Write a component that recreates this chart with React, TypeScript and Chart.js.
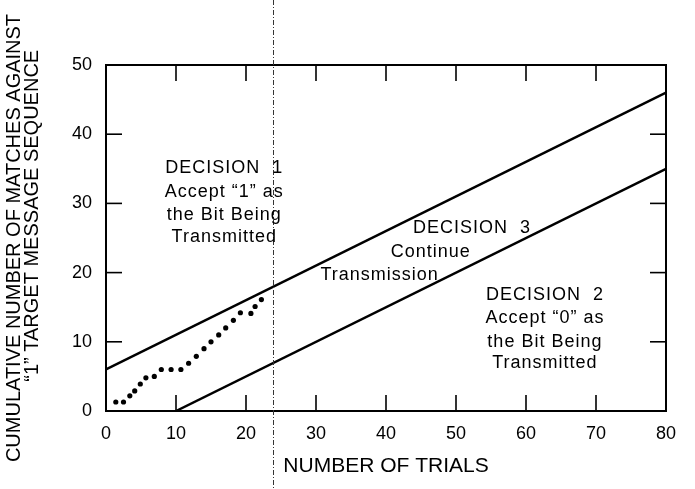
import React, { useEffect, useRef } from 'react';
import { Chart, registerables } from 'chart.js';

Chart.register(...registerables);

// Observed sequential test path (trial number, cumulative matches)
const trialX = [1.4, 2.5, 3.4, 4.1, 4.9, 5.7, 6.9, 7.9, 9.3, 10.7, 11.8, 12.9, 14.0, 15.0, 16.1, 17.1, 18.2, 19.2, 20.7, 21.3, 22.2];
const matchY = [1.3, 1.3, 2.2, 2.9, 3.9, 4.8, 5.0, 6.0, 6.0, 6.0, 6.9, 7.9, 9.0, 10.0, 11.0, 12.0, 13.1, 14.2, 14.1, 15.1, 16.1];

// Decision boundaries
const upperX = [0, 80];
const upperY = [6, 46];
const lowerX = [10, 80];
const lowerY = [0, 35];

// Trial at which decision was reached
const decisionTrial = 23.9;

const xTitle = 'NUMBER OF TRIALS';
const yTitle = ['CUMULATIVE NUMBER OF MATCHES AGAINST', '        \u201C1\u201D TARGET MESSAGE SEQUENCE'];

const regionLabels = [
  { text: 'DECISION  1', x: 16.9, y: 35.1 },
  { text: 'Accept \u201C1\u201D as', x: 16.9, y: 31.6 },
  { text: 'the Bit Being', x: 16.9, y: 28.3 },
  { text: 'Transmitted', x: 16.9, y: 25.1 },
  { text: 'DECISION  3', x: 52.3, y: 26.4 },
  { text: 'Continue', x: 46.4, y: 23.0 },
  { text: 'Transmission', x: 39.1, y: 19.7 },
  { text: 'DECISION  2', x: 62.7, y: 16.8 },
  { text: 'Accept \u201C0\u201D as', x: 62.7, y: 13.4 },
  { text: 'the Bit Being', x: 62.7, y: 10.0 },
  { text: 'Transmitted', x: 62.7, y: 6.9 },
];

const FONT = '"Liberation Sans", Arial, sans-serif';

const framePlugin = {
  id: 'frame',
  afterDraw(chart: any) {
    const { ctx, chartArea: a, scales } = chart;
    const x = scales.x;
    const y = scales.y;
    const seg = (x1: number, y1: number, x2: number, y2: number) => {
      ctx.beginPath();
      ctx.moveTo(x1, y1);
      ctx.lineTo(x2, y2);
      ctx.stroke();
    };
    ctx.save();
    ctx.strokeStyle = '#000';
    ctx.lineWidth = 2;
    ctx.strokeRect(a.left, a.top, a.right - a.left, a.bottom - a.top);
    ctx.lineWidth = 1.6;
    const tl = 16;
    x.ticks.forEach((t: any) => {
      if (t.value <= x.min || t.value >= x.max) return;
      const px = x.getPixelForValue(t.value);
      seg(px, a.bottom, px, a.bottom - tl);
      seg(px, a.top, px, a.top + tl);
    });
    y.ticks.forEach((t: any) => {
      if (t.value <= y.min || t.value >= y.max) return;
      const py = y.getPixelForValue(t.value);
      seg(a.left, py, a.left + tl, py);
      seg(a.right, py, a.right - tl, py);
    });
    // vertical decision line
    ctx.lineWidth = 1;
    ctx.strokeStyle = '#333';
    ctx.setLineDash([5, 2, 1, 2]);
    const dx = Math.round(x.getPixelForValue(decisionTrial)) + 0.5;
    seg(dx, 0, dx, chart.height);
    ctx.setLineDash([]);
    // region labels
    ctx.fillStyle = '#000';
    ctx.font = `18px ${FONT}`;
    (ctx as any).letterSpacing = '1px';
    ctx.textAlign = 'center';
    ctx.textBaseline = 'middle';
    regionLabels.forEach((l) => {
      ctx.fillText(l.text, x.getPixelForValue(l.x), y.getPixelForValue(l.y));
    });
    ctx.restore();
  },
};

export default function App() {
  const ref = useRef<HTMLCanvasElement | null>(null);
  useEffect(() => {
    if (!ref.current) return;
    const chart = new Chart(ref.current, {
      type: 'scatter',
      data: {
        datasets: [
          {
            label: 'path',
            data: trialX.map((v, i) => ({ x: v, y: matchY[i] })),
            showLine: false,
            pointRadius: 2.6,
            pointBackgroundColor: '#000',
            pointBorderWidth: 0,
          },
          {
            label: 'upper',
            data: upperX.map((v, i) => ({ x: v, y: upperY[i] })),
            showLine: true,
            borderColor: '#000',
            borderWidth: 2.5,
            pointRadius: 0,
          },
          {
            label: 'lower',
            data: lowerX.map((v, i) => ({ x: v, y: lowerY[i] })),
            showLine: true,
            borderColor: '#000',
            borderWidth: 2.5,
            pointRadius: 0,
          },
        ],
      },
      options: {
        responsive: false,
        animation: false,
        devicePixelRatio: 1,
        layout: { padding: { top: 65, right: 29, left: 0, bottom: 0 } },
        plugins: { legend: { display: false }, tooltip: { enabled: false } },
        scales: {
          x: {
            type: 'linear',
            min: 0,
            max: 80,
            grid: { display: false, drawTicks: false },
            border: { display: false },
            ticks: { stepSize: 10, color: '#000', padding: 12, font: { family: FONT, size: 18 } },
            title: {
              display: true,
              text: xTitle,
              color: '#000',
              font: { family: FONT, size: 21 },
              padding: { top: 0, bottom: 10 },
            },
            afterFit: (s: any) => {
              s.height = 78;
            },
          },
          y: {
            type: 'linear',
            min: 0,
            max: 50,
            grid: { display: false, drawTicks: false },
            border: { display: false },
            ticks: { stepSize: 10, color: '#000', padding: 14, font: { family: FONT, size: 18 } },
            title: {
              display: true,
              text: yTitle,
              color: '#000',
              font: { family: FONT, size: 20, lineHeight: 0.9 },
              padding: { top: 5, bottom: 0 },
            },
            afterFit: (s: any) => {
              s.width = 106;
            },
          },
        },
      },
      plugins: [framePlugin],
    });
    return () => chart.destroy();
  }, []);
  return (
    <div style={{ position: 'fixed', left: 0, top: 0, width: 695, height: 489, background: '#fff' }}>
      <canvas ref={ref} width={695} height={489} />
    </div>
  );
}
